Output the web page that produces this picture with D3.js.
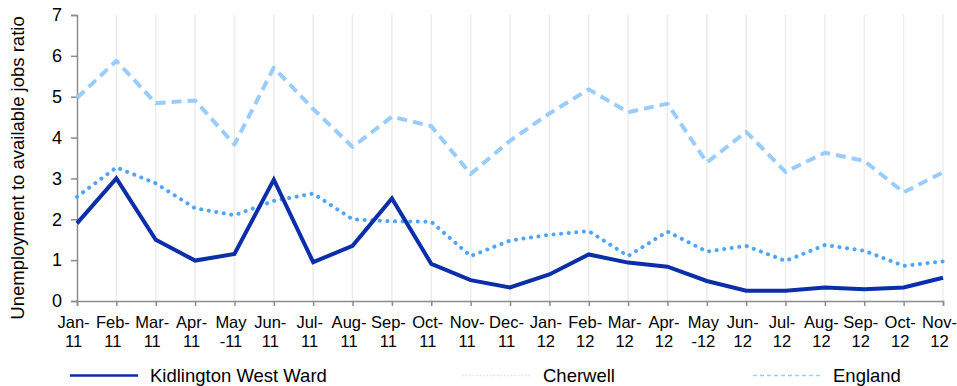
<!DOCTYPE html>
<html>
<head>
<meta charset="utf-8">
<script src="https://cdn.jsdelivr.net/npm/d3@7"></script>
<style>
  html, body { margin: 0; padding: 0; background: #fff; }
  svg { display: block; font-family: "Liberation Sans", Arial, sans-serif; }
</style>
</head>
<body>
<svg id="chart" width="957" height="386"></svg>
<script>
const categories = ["Jan-11","Feb-11","Mar-11","Apr-11","May -11","Jun-11","Jul-11","Aug-11","Sep-11","Oct-11","Nov-11","Dec-11",
                    "Jan-12","Feb-12","Mar-12","Apr-12","May -12","Jun-12","Jul-12","Aug-12","Sep-12","Oct-12","Nov-12"];
const kidlington = [1.90,3.00,1.50,0.99,1.15,2.97,0.95,1.35,2.51,0.91,0.51,0.33,0.65,1.14,0.94,0.84,0.49,0.25,0.25,0.33,0.29,0.33,0.57];
const cherwell   = [2.55,3.27,2.88,2.27,2.10,2.45,2.63,2.00,1.95,1.94,1.10,1.48,1.62,1.71,1.10,1.70,1.21,1.35,0.98,1.37,1.23,0.86,0.97];
const england    = [4.97,5.88,4.84,4.91,3.83,5.71,4.70,3.77,4.51,4.28,3.11,3.92,4.59,5.18,4.62,4.83,3.39,4.14,3.16,3.63,3.43,2.66,3.15];
const yTicks = [0,1,2,3,4,5,6,7];
const seriesNames = ["Kidlington West Ward","Cherwell","England"];

const svg = d3.select("#chart");
const pL = 77, pR = 943, pT = 15, pB = 301;

const x = d3.scalePoint().domain(categories).range([pL, pR]);
const y = d3.scaleLinear().domain([0, 7]).range([pB, pT]);

// vertical gridlines
svg.append("g").selectAll("line").data(categories.slice(1)).join("line")
  .attr("x1", d => x(d)).attr("x2", d => x(d))
  .attr("y1", pT).attr("y2", pB)
  .attr("stroke", "#ececec").attr("stroke-width", 1.5);

// y axis
const yAxis = svg.append("g").attr("transform", `translate(${pL},0)`)
  .call(d3.axisLeft(y).tickValues(yTicks).tickSize(6).tickPadding(9).tickFormat(d3.format("d")));
yAxis.select(".domain").attr("stroke", "#8c8c8c").attr("stroke-width", 1.5);
yAxis.selectAll(".tick line").attr("stroke", "#8c8c8c").attr("stroke-width", 1.5);
yAxis.selectAll(".tick text").attr("font-size", 18).attr("fill", "#000")
  .attr("font-family", "Liberation Sans, Arial, sans-serif");

// x axis
const xAxis = svg.append("g").attr("transform", `translate(0,${pB})`)
  .call(d3.axisBottom(x).tickSize(5).tickFormat(""));
xAxis.select(".domain").attr("stroke", "#8c8c8c").attr("stroke-width", 1.5);
xAxis.selectAll(".tick line").attr("stroke", "#8c8c8c").attr("stroke-width", 1.5);
xAxis.selectAll(".tick").each(function(d) {
  let l1, l2;
  const sp = d.indexOf(" ");
  if (sp >= 0) { l1 = d.slice(0, sp); l2 = d.slice(sp + 1); }
  else { const i = d.lastIndexOf("-"); l1 = d.slice(0, i + 1); l2 = d.slice(i + 1); }
  const t = d3.select(this).append("text")
    .attr("fill", "#000").attr("font-size", 16.5).attr("text-anchor", "middle")
    .attr("font-family", "Liberation Sans, Arial, sans-serif");
  t.append("tspan").attr("x", -4).attr("y", 27).text(l1);
  t.append("tspan").attr("x", -4).attr("y", 46).text(l2);
});

// y title
svg.append("text")
  .attr("transform", `translate(24,${(pT+pB)/2 + 10}) rotate(-90)`)
  .attr("text-anchor", "middle").attr("font-size", 18.5).attr("fill", "#000")
  .text("Unemployment to available jobs ratio");

const line = d3.line().x((d, i) => x(categories[i])).y(d => y(d));

svg.append("path").datum(england).attr("d", line)
  .attr("fill", "none").attr("stroke", "#99ccff").attr("stroke-width", 4)
  .attr("stroke-dasharray", "10,6").attr("stroke-linejoin", "round");

svg.append("path").datum(cherwell).attr("d", line)
  .attr("fill", "none").attr("stroke", "#4da6ff").attr("stroke-width", 4)
  .attr("stroke-dasharray", "0.1,7.5").attr("stroke-linecap", "round").attr("stroke-linejoin", "round");

svg.append("path").datum(kidlington).attr("d", line)
  .attr("fill", "none").attr("stroke", "#0a2fa8").attr("stroke-width", 4)
  .attr("stroke-linejoin", "miter");

// legend
const legend = [
  {name: seriesNames[0], x0: 70, x1: 138, tx: 150, color: "#0a2fa8", w: 2.5, dash: null},
  {name: seriesNames[1], x0: 462, x1: 532, tx: 543, color: "#cfe6ff", w: 1.5, dash: "1.5,2"},
  {name: seriesNames[2], x0: 753, x1: 822, tx: 833, color: "#99ccff", w: 1.5, dash: "4,3"}
];
const lg = svg.append("g");
legend.forEach(l => {
  lg.append("line").attr("x1", l.x0).attr("x2", l.x1).attr("y1", 375.5).attr("y2", 375.5)
    .attr("stroke", l.color).attr("stroke-width", l.w).attr("stroke-dasharray", l.dash);
  lg.append("text").attr("x", l.tx).attr("y", 382).attr("font-size", 18.5).attr("fill", "#000").text(l.name);
});
</script>
</body>
</html>
